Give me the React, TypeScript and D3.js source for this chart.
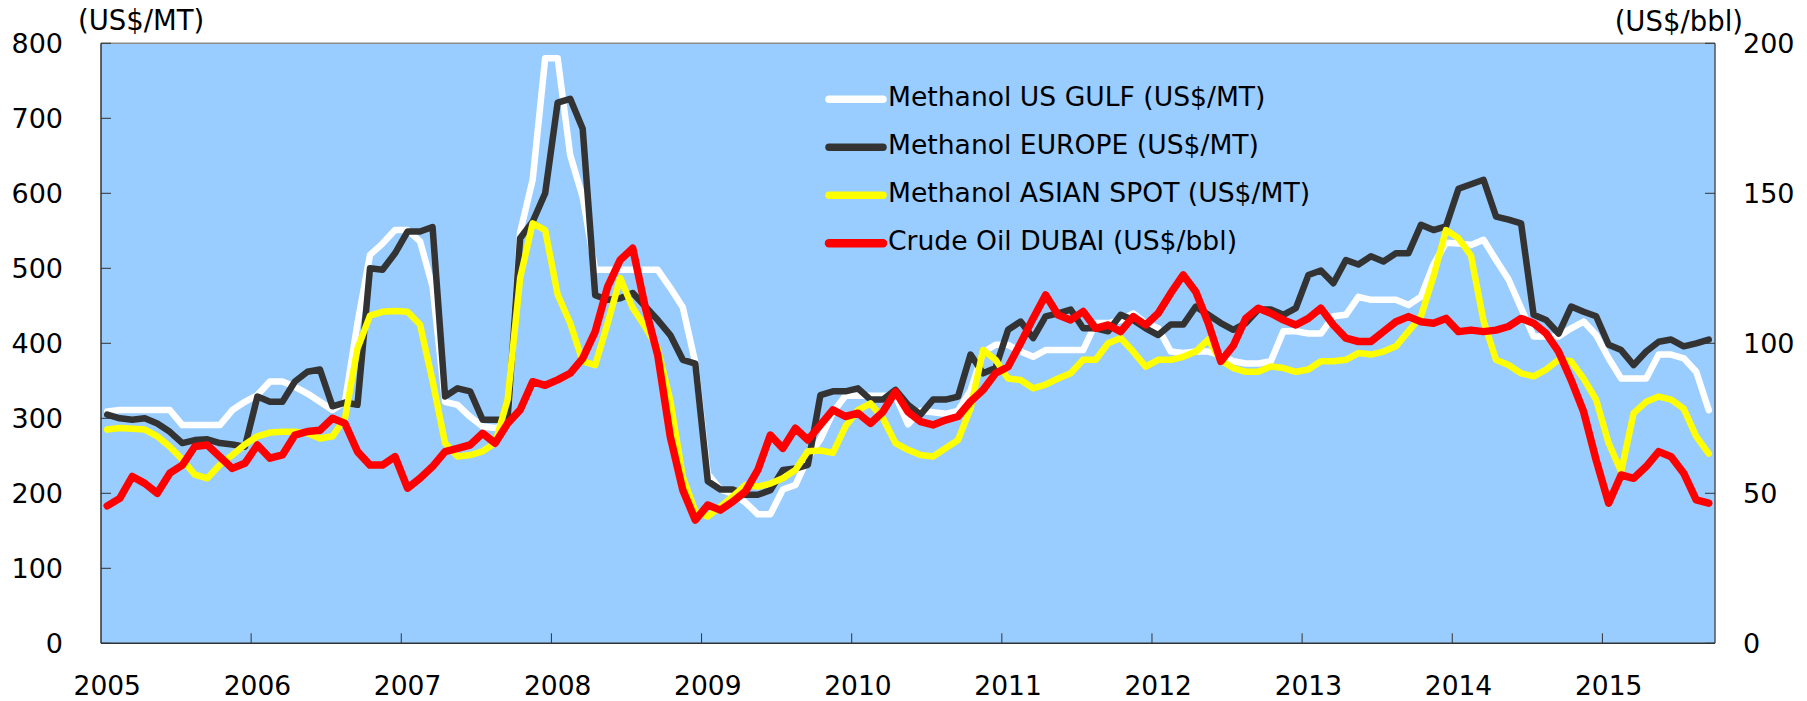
import React from "react";
import * as d3 from "d3";

// Monthly data, Jan 2005 .. Sep 2015
const yearLabels = ["2005","2006","2007","2008","2009","2010","2011","2012","2013","2014","2015"];
const leftTicks = [0,100,200,300,400,500,600,700,800];
const rightTicks = [0,50,100,150,200];

const usGulf = [309,311,311,311,311,311,291,291,291,291,311,322,331,349,349,342,333,322,311,322,
427,518,533,551,551,536,476,322,318,302,289,287,292,548,618,780,780,651,595,498,
498,498,498,498,498,474,448,374,226,205,199,188,172,172,205,211,247,272,308,330,
330,330,330,330,292,310,308,306,310,337,388,398,398,389,382,391,391,391,391,427,
427,431,440,427,420,389,387,389,389,384,376,373,373,376,416,416,413,413,436,438,
462,458,458,458,451,462,505,534,533,531,538,511,485,447,409,409,409,420,429,411,
380,353,353,353,385,385,380,362,311];

const europe = [305,300,298,300,293,282,267,271,272,267,265,262,329,322,322,349,362,365,316,321,
318,500,498,520,549,549,555,329,340,336,298,298,298,540,562,600,721,726,686,464,
458,460,467,449,431,411,378,373,216,205,205,198,198,204,231,233,238,331,336,336,
340,325,325,338,318,305,325,325,329,385,360,367,418,429,407,436,440,445,420,420,
416,438,431,420,411,425,425,449,438,427,418,427,445,445,438,447,491,497,480,511,
505,516,509,520,520,558,551,556,606,612,618,569,565,560,438,431,413,449,442,436,
398,391,371,389,402,405,396,400,405];

const asianSpot = [285,287,286,285,276,262,245,225,220,238,251,265,276,281,282,282,280,273,276,300,
393,437,442,443,442,425,350,267,249,251,256,267,325,487,560,551,465,427,376,371,
427,487,447,422,393,324,222,176,169,182,196,211,209,213,220,231,256,257,254,289,
311,320,300,267,258,251,249,260,271,313,391,378,353,351,340,345,353,360,378,378,
400,407,389,369,378,378,382,389,405,377,367,362,362,369,367,362,365,376,376,378,
387,385,389,396,416,436,489,551,540,517,430,378,371,360,356,365,378,376,353,325,
267,229,307,322,329,325,313,276,253];

const dubai = [45.8,48.3,55.6,53.3,50,56.7,59.4,65.6,66.1,62.2,58.3,60,66.1,61.7,62.8,69.4,70.6,71,75,73.3,
63.9,59.4,59.4,62.2,51.7,55,58.9,63.9,65,66.1,70,66.7,73.3,77.8,87.2,86,87.8,90,95,103.9,
118.9,127.8,131.7,112,96,68.9,51.1,41.1,46.1,44.4,47.2,50.6,57.8,69.4,65,71.7,67.8,72.8,77.8,75.6,
76.7,73.3,77.2,83.9,77.2,73.9,72.8,74.4,75.6,80.6,84.4,90,92.2,100,108.3,116.1,109.4,107.8,110.6,105,
106.1,103.9,108.9,106.1,110,116.7,122.8,117.2,106.7,94,99.2,108.3,111.7,110,107.8,106.1,108.3,111.7,106.1,101.7,
100.6,100.6,103.9,107.2,108.9,107.2,106.7,108.3,103.9,104.4,103.9,104.4,105.6,108.3,106.7,103.3,97.2,87.8,77.2,61.1,
46.7,56.1,55,58.9,63.9,62.2,56.7,47.8,46.7];

const seriesNames = [
  "Methanol US GULF (US$/MT)",
  "Methanol EUROPE (US$/MT)",
  "Methanol ASIAN SPOT (US$/MT)",
  "Crude Oil DUBAI (US$/bbl)",
];

const W = 1807, H = 701;
const L = 101, R = 1715, T = 43.3, B = 643.3;
const FONT = "'DejaVu Sans', Verdana, sans-serif";

export default function App() {
  const n = usGulf.length;
  const x = d3.scaleLinear().domain([-0.5, n - 0.5]).range([L, R]);
  const yL = d3.scaleLinear().domain([0, 800]).range([B, T]);
  const yR = d3.scaleLinear().domain([0, 200]).range([B, T]);

  const lineL = d3.line<number>().x((_, i) => x(i)).y((v) => yL(v));
  const lineR = d3.line<number>().x((_, i) => x(i)).y((v) => yR(v));

  const series = [
    { name: seriesNames[0], data: usGulf, color: "#FFFFFF", w: 6.5, gen: lineL },
    { name: seriesNames[1], data: europe, color: "#333333", w: 6.5, gen: lineL },
    { name: seriesNames[2], data: asianSpot, color: "#FFFF00", w: 6.5, gen: lineL },
    { name: seriesNames[3], data: dubai, color: "#FF0000", w: 7.5, gen: lineR },
  ];

  const legendX = 829, legendY0 = 99.3, legendStep = 48;

  return (
    <svg width={W} height={H} style={{ position: "absolute", left: 0, top: 0 }} fontFamily={FONT}>
      <defs>
        <clipPath id="plotClip">
          <rect x={L} y={T} width={R - L} height={B - T} />
        </clipPath>
      </defs>
      <rect x={L} y={T} width={R - L} height={B - T} fill="#99CCFF" />
      {/* borders */}
      <line x1={L} x2={R} y1={T} y2={T} stroke="#8c8c8c" strokeWidth={1.5} />
      <line x1={L} x2={L} y1={T} y2={B} stroke="#333" strokeWidth={1.5} />
      <line x1={R} x2={R} y1={T} y2={B} stroke="#555" strokeWidth={1.5} />
      <line x1={L} x2={R} y1={B} y2={B} stroke="#333" strokeWidth={1.5} />

      {/* left ticks */}
      {leftTicks.map((t) => (
        <g key={"l" + t}>
          <line x1={L} x2={L + 10} y1={yL(t)} y2={yL(t)} stroke="#333" strokeWidth={1} />
          <text x={63} y={yL(t) + 10} textAnchor="end" fontSize={27} fill="#000">{t}</text>
        </g>
      ))}
      {/* right ticks */}
      {rightTicks.map((t) => (
        <g key={"r" + t}>
          <line x1={R - 10} x2={R} y1={yR(t)} y2={yR(t)} stroke="#333" strokeWidth={1} />
          <text x={1743} y={yR(t) + 10} textAnchor="start" fontSize={27} fill="#000">{t}</text>
        </g>
      ))}
      {/* x ticks */}
      {yearLabels.map((lab, k) => (
        <g key={lab}>
          {k > 0 && (
            <line x1={x(12 * k - 0.5)} x2={x(12 * k - 0.5)} y1={B} y2={B - 10} stroke="#333" strokeWidth={1} />
          )}
          <text x={x(12 * k)} y={695} textAnchor="middle" fontSize={26.5} fill="#000">{lab}</text>
        </g>
      ))}

      <text x={78} y={30} fontSize={27.5} fill="#000">(US$/MT)</text>
      <text x={1743} y={31} textAnchor="end" fontSize={27.5} fill="#000">(US$/bbl)</text>

      <g clipPath="url(#plotClip)">
        {series.map((s) => (
          <path key={s.name} d={s.gen(s.data) || ""} fill="none" stroke={s.color}
            strokeWidth={s.w} strokeLinejoin="round" strokeLinecap="round" />
        ))}
      </g>

      {series.map((s, i) => (
        <g key={"lg" + i}>
          <line x1={legendX} x2={legendX + 54} y1={legendY0 + i * legendStep} y2={legendY0 + i * legendStep}
            stroke={s.color} strokeWidth={s.w + 1} strokeLinecap="round" />
          <text x={888} y={legendY0 + i * legendStep + 6.5} fontSize={26.6} fill="#000">{s.name}</text>
        </g>
      ))}
    </svg>
  );
}
